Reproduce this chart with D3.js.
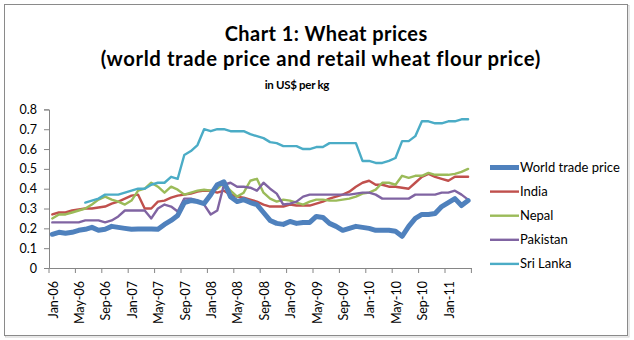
<!DOCTYPE html>
<html>
<head>
<meta charset="utf-8">
<script src="https://cdn.jsdelivr.net/npm/d3@7"></script>
<style>
  html, body { margin: 0; padding: 0; background: #fff; }
  svg { display: block; font-family: Lato, "Noto Sans", sans-serif; }
</style>
</head>
<body>
<svg id="chart" width="634" height="340"></svg>
<script>
// Monthly categories, Jan-06 to Apr-11
const months = [
  "Jan-06","Feb-06","Mar-06","Apr-06","May-06","Jun-06","Jul-06","Aug-06","Sep-06","Oct-06","Nov-06","Dec-06",
  "Jan-07","Feb-07","Mar-07","Apr-07","May-07","Jun-07","Jul-07","Aug-07","Sep-07","Oct-07","Nov-07","Dec-07",
  "Jan-08","Feb-08","Mar-08","Apr-08","May-08","Jun-08","Jul-08","Aug-08","Sep-08","Oct-08","Nov-08","Dec-08",
  "Jan-09","Feb-09","Mar-09","Apr-09","May-09","Jun-09","Jul-09","Aug-09","Sep-09","Oct-09","Nov-09","Dec-09",
  "Jan-10","Feb-10","Mar-10","Apr-10","May-10","Jun-10","Jul-10","Aug-10","Sep-10","Oct-10","Nov-10","Dec-10",
  "Jan-11","Feb-11","Mar-11","Apr-11"
];

// Prices in US$ per kg
const worldTradePrice = [
  0.17,0.18,0.175,0.18,0.19,0.195,0.205,0.19,0.195,0.21,
  0.205,0.20,0.195,0.197,0.197,0.197,0.195,0.22,0.24,0.265,
  0.33,0.34,0.335,0.325,0.37,0.42,0.435,0.36,0.335,0.345,
  0.33,0.32,0.28,0.24,0.225,0.22,0.235,0.225,0.23,0.23,
  0.26,0.255,0.225,0.21,0.19,0.20,0.21,0.205,0.20,0.19,
  0.19,0.19,0.185,0.16,0.21,0.25,0.27,0.27,0.275,0.31,
  0.33,0.35,0.315,0.34
];
const india = [
  0.27,0.28,0.28,0.29,0.295,0.30,0.30,0.305,0.31,0.325,
  0.335,0.35,0.365,0.37,0.30,0.30,0.335,0.34,0.355,0.365,
  0.37,0.375,0.385,0.39,0.39,0.38,0.39,0.37,0.36,0.355,
  0.345,0.335,0.32,0.31,0.31,0.31,0.32,0.315,0.315,0.315,
  0.325,0.335,0.35,0.36,0.37,0.385,0.41,0.43,0.44,0.42,
  0.42,0.41,0.41,0.405,0.40,0.43,0.46,0.475,0.46,0.45,
  0.44,0.46,0.46,0.46
];
const nepal = [
  0.25,0.27,0.27,0.28,0.29,0.30,0.32,0.345,0.36,0.345,
  0.335,0.32,0.34,0.39,0.40,0.43,0.41,0.38,0.41,0.395,
  0.37,0.38,0.39,0.395,0.39,0.40,0.43,0.39,0.36,0.38,
  0.44,0.45,0.38,0.35,0.335,0.345,0.34,0.33,0.32,0.335,
  0.345,0.345,0.34,0.34,0.345,0.35,0.36,0.375,0.38,0.395,
  0.43,0.43,0.42,0.465,0.455,0.465,0.465,0.48,0.47,0.47,
  0.47,0.475,0.485,0.50
];
const pakistan = [
  0.23,0.23,0.23,0.23,0.23,0.24,0.24,0.24,0.23,0.24,
  0.26,0.29,0.29,0.29,0.29,0.25,0.30,0.32,0.31,0.285,
  0.35,0.35,0.34,0.32,0.27,0.29,0.42,0.43,0.41,0.41,
  0.405,0.39,0.43,0.40,0.375,0.32,0.325,0.335,0.36,0.37,
  0.37,0.37,0.37,0.37,0.37,0.37,0.375,0.38,0.38,0.37,
  0.35,0.35,0.35,0.35,0.35,0.37,0.37,0.37,0.37,0.38,
  0.38,0.39,0.37,0.345
];
const sriLanka = [
  null,null,null,null,null,0.33,0.34,0.35,0.37,0.37,
  0.37,0.38,0.39,0.40,0.40,0.42,0.43,0.43,0.46,0.45,
  0.57,0.59,0.62,0.70,0.69,0.70,0.70,0.69,0.69,0.69,
  0.675,0.665,0.655,0.635,0.63,0.615,0.615,0.615,0.60,0.60,
  0.61,0.61,0.63,0.63,0.63,0.63,0.63,0.54,0.54,0.53,
  0.53,0.54,0.555,0.64,0.64,0.665,0.74,0.74,0.73,0.73,
  0.74,0.74,0.75,0.75
];

const seriesNames = ["World trade price", "India", "Nepal", "Pakistan", "Sri Lanka"];
const seriesValues = [worldTradePrice, india, nepal, pakistan, sriLanka];
const seriesColors = ["#4F81BD", "#C0504D", "#9BBB59", "#8064A2", "#4BACC6"];
const seriesWidths = [5, 2.4, 2.4, 2.4, 2.4];

const yTicks = [0, 0.1, 0.2, 0.3, 0.4, 0.5, 0.6, 0.7, 0.8];
const titleLines = [
  "Chart 1: Wheat prices",
  "(world trade price and retail wheat flour price)",
  "in US$ per kg"
];

const svg = d3.select("#chart");
const plotLeft = 49, plotRight = 471.4, plotTop = 109.4, plotBottom = 268;

// Outer frame
svg.append("rect").attr("x", 5.5).attr("y", 5.5).attr("width", 623.5).attr("height", 331.5)
  .attr("fill", "none").attr("stroke", "#d0d0d0").attr("stroke-width", 1);
svg.append("rect").attr("x", 4.5).attr("y", 4.5).attr("width", 623).attr("height", 331)
  .attr("fill", "#fff").attr("stroke", "#8a8a8a").attr("stroke-width", 1);

// Title lines: fixed size, spacing adjusted toward each line's width
const titleSpec = [
  { cx: 326, y: 41, w: 203, size: 20 },
  { cx: 320.5, y: 65.5, w: 462, size: 20.3 },
  { cx: 297, y: 89, w: 64, size: 11.5 }
];
const titleG = svg.append("g").attr("font-weight", "bold").attr("fill", "#000")
  .attr("text-anchor", "middle");
titleLines.forEach((t, k) => {
  const s = titleSpec[k];
  const el = titleG.append("text").attr("x", s.cx).attr("y", s.y)
    .attr("font-size", s.size).text(t);
  const len = el.node().getComputedTextLength();
  const n = t.length;
  if (len > 0 && n > 1) {
    const ls = Math.max(-0.3, Math.min(0.6, (s.w - len) / n));
    el.attr("letter-spacing", ls).attr("x", s.cx + ls / 2);
  }
});

// Scales
const x = d3.scalePoint().domain(months).range([plotLeft, plotRight]).padding(0.5);
const xBand = d3.scaleBand().domain(months).range([plotLeft, plotRight]).padding(0);
const y = d3.scaleLinear().domain([0, 0.8]).range([plotBottom, plotTop]);

// Y axis
const yAxis = svg.append("g").attr("transform", `translate(${plotLeft},0)`)
  .call(d3.axisLeft(y).tickValues(yTicks).tickSize(5).tickPadding(7)
    .tickFormat(d => d === 0 ? "0" : d3.format(".1f")(d)));
yAxis.select(".domain").attr("stroke", "#868686");
yAxis.selectAll(".tick line").attr("stroke", "#868686");
yAxis.selectAll("text").attr("font-size", 12.5).attr("fill", "#000")
  .attr("font-family", "Lato, 'Noto Sans', sans-serif");

// X axis: labels every fourth month, ticks on category boundaries
const labelMonths = months.filter((m, i) => i % 4 === 0);
const xAxis = svg.append("g").attr("transform", `translate(0,${plotBottom})`)
  .call(d3.axisBottom(xBand).tickValues(labelMonths).tickSize(0).tickSizeOuter(0));
xAxis.select(".domain").attr("stroke", "#868686");
xAxis.selectAll("text")
  .attr("font-size", 12.5).attr("fill", "#000")
  .attr("font-family", "Lato, 'Noto Sans', sans-serif")
  .attr("text-anchor", "end")
  .attr("transform", "translate(1,13) rotate(-90)")
  .attr("x", 0).attr("y", 0).attr("dy", "0.35em");
const boundaries = d3.range(0, months.length + 1, 4).map(i => plotLeft + i * xBand.step());
svg.append("g").selectAll("line").data(boundaries).join("line")
  .attr("x1", d => d).attr("x2", d => d)
  .attr("y1", plotBottom).attr("y2", plotBottom + 5)
  .attr("stroke", "#868686");

// Series lines (thick world price drawn last, on top)
const line = d3.line()
  .defined(d => d.v != null)
  .x(d => x(d.m))
  .y(d => y(d.v));

const order = [1, 2, 3, 4, 0];
order.forEach(k => {
  const pts = months.map((m, i) => ({ m, v: seriesValues[k][i] }));
  svg.append("path").datum(pts)
    .attr("fill", "none")
    .attr("stroke", seriesColors[k])
    .attr("stroke-width", seriesWidths[k])
    .attr("stroke-linejoin", "round")
    .attr("stroke-linecap", "round")
    .attr("d", line);
});

// Legend
const legend = svg.append("g");
seriesNames.forEach((name, k) => {
  const ly = 167.5 + k * 24.1;
  legend.append("line").attr("x1", 490).attr("x2", 519).attr("y1", ly).attr("y2", ly)
    .attr("stroke", seriesColors[k]).attr("stroke-width", seriesWidths[k]);
  legend.append("text").attr("x", 520).attr("y", ly).attr("dy", "0.35em")
    .attr("font-size", 13).attr("fill", "#000").text(name);
});
</script>
</body>
</html>
